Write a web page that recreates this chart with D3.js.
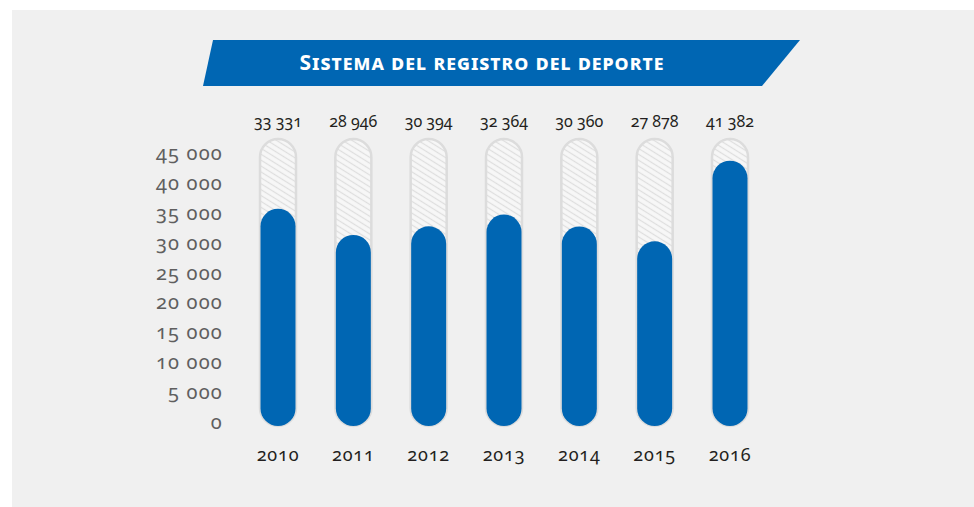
<!DOCTYPE html>
<html>
<head>
<meta charset="utf-8">
<script src="https://cdn.jsdelivr.net/npm/d3@7"></script>
<style>
  html, body { margin: 0; padding: 0; background: #ffffff; }
  svg { display: block; }
  text { font-family: "Noto Sans", "Open Sans", sans-serif; font-variant-numeric: oldstyle-nums; font-feature-settings: "onum" 1; }
</style>
</head>
<body>
<svg id="chart" width="974" height="507"></svg>
<script>
// ---- data ----
const years = ["2010", "2011", "2012", "2013", "2014", "2015", "2016"];
const values = [33331, 28946, 30394, 32364, 30360, 27878, 41382];
const yTicks = [0, 5000, 10000, 15000, 20000, 25000, 30000, 35000, 40000, 45000];
const title = "Sistema del registro del deporte";

const fmt = v => d3.format(",")(v).replace(/,/g, " ");

const W = 974, H = 507;
const blue = "#0066b3";
const svg = d3.select("#chart");

// panel background
svg.append("rect").attr("x", 12).attr("y", 10).attr("width", W - 12).attr("height", H - 10).attr("fill", "#f0f0f0");

// hatch pattern
const defs = svg.append("defs");
const pat = defs.append("pattern").attr("id", "hatch").attr("patternUnits", "userSpaceOnUse")
  .attr("width", 5).attr("height", 5).attr("patternTransform", "rotate(32)");
pat.append("rect").attr("width", 5).attr("height", 5).attr("fill", "#f7f7f7");
pat.append("line").attr("x1", 0).attr("y1", 2.5).attr("x2", 5).attr("y2", 2.5).attr("stroke", "#dedede").attr("stroke-width", 1.2);

// scales
const x = d3.scalePoint().domain(years).range([278, 730]);
const y = d3.scaleLinear().domain([0, 45000]).range([422, 153]);
const barW = 36, r = barW / 2;
const capTop = 14, capBottom = 4; // rounded cap extension beyond value

// title banner
const bTop = 40, bBot = 86;
const banner = [[213, bTop], [800, bTop], [762, bBot], [203, bBot]];
svg.append("path").attr("d", d3.line()(banner) + "Z").attr("fill", blue);
svg.append("text").attr("x", 482).attr("y", 70).attr("text-anchor", "middle")
  .attr("fill", "#ffffff").attr("font-weight", "bold").attr("font-size", 21)
  .style("font-variant", "small-caps").attr("letter-spacing", 1)
  .text(title);

// y axis labels
svg.append("g").selectAll("text").data(yTicks).join("text")
  .attr("x", 223).attr("y", d => y(d)).attr("dy", "0.35em")
  .attr("text-anchor", "end").attr("fill", "#5f5f5f").attr("font-size", 20)
  .attr("letter-spacing", 1.2)
  .text(d => fmt(d));

// background capsules
const maxV = y.domain()[1];
svg.append("g").selectAll("rect").data(years).join("rect")
  .attr("x", d => x(d) - r).attr("width", barW)
  .attr("y", y(maxV) - capTop).attr("height", y(0) + capBottom - (y(maxV) - capTop))
  .attr("rx", r).attr("ry", r)
  .attr("fill", "url(#hatch)").attr("stroke", "#dcdcdc").attr("stroke-width", 2.5);

// value bars
svg.append("g").selectAll("rect").data(values).join("rect")
  .attr("x", (d, i) => x(years[i]) - r + 0.5).attr("width", barW - 1)
  .attr("y", d => y(d) - capTop).attr("height", d => y(0) + capBottom - (y(d) - capTop))
  .attr("rx", r - 0.5).attr("ry", r - 0.5)
  .attr("fill", blue);

// value labels
svg.append("g").selectAll("text").data(values).join("text")
  .attr("x", (d, i) => x(years[i])).attr("y", 121).attr("dy", "0.35em")
  .attr("text-anchor", "middle").attr("fill", "#231f20").attr("font-size", 16)
  .text(d => fmt(d));

// year labels
svg.append("g").selectAll("text").data(years).join("text")
  .attr("x", d => x(d)).attr("y", 455).attr("dy", "0.35em")
  .attr("text-anchor", "middle").attr("fill", "#231f20").attr("font-size", 18)
  .attr("letter-spacing", 0.8)
  .text(d => d);
</script>
</body>
</html>
